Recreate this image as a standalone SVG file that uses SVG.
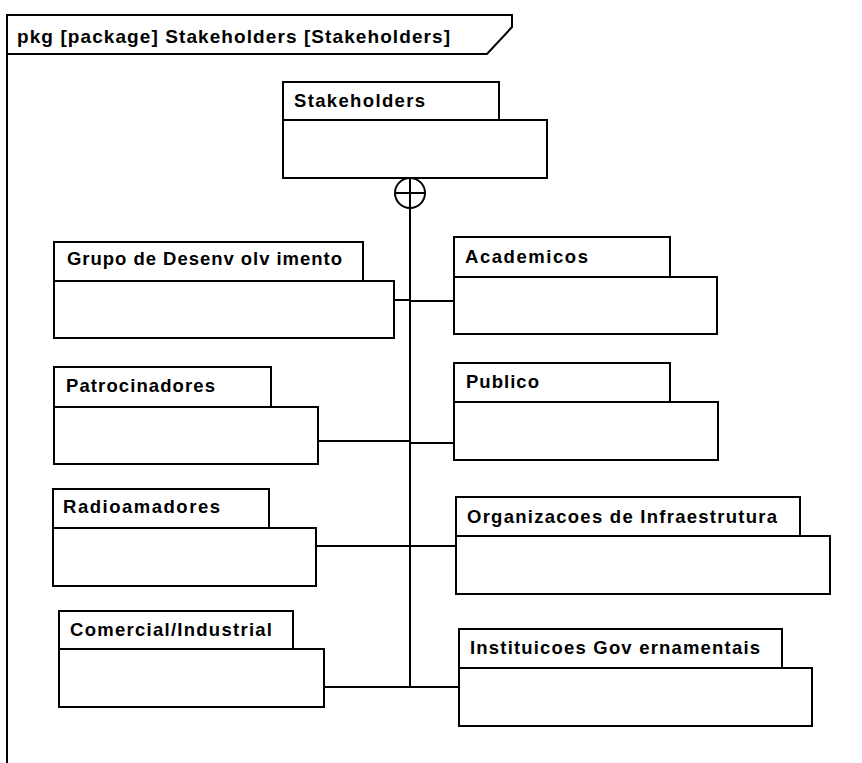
<svg xmlns="http://www.w3.org/2000/svg" width="862" height="763" viewBox="0 0 862 763">
  <style>
    .box { fill: #ffffff; stroke: #000000; stroke-width: 2; }
    .line { fill: none; stroke: #000000; stroke-width: 2; }
    .lbl { font-family: "Liberation Sans", Arial, sans-serif; font-weight: bold; font-size: 18.5px; fill: #000000; }
    .title { font-family: "Liberation Sans", Arial, sans-serif; font-weight: bold; font-size: 19px; fill: #000000; }
  </style>
  <rect x="0" y="0" width="862" height="763" fill="#ffffff"/>

  <!-- diagram frame with header tab -->
  <g id="frame">
    <path class="line" d="M7,763 L7,15 L512,15 L512,27 L487,54 L7,54"/>
    <text class="title" x="17" y="43" textLength="433" lengthAdjust="spacing">pkg [package] Stakeholders [Stakeholders]</text>
  </g>

  <!-- containment connectors -->
  <g id="connectors">
    <circle class="line" cx="410" cy="193" r="15"/>
    <line class="line" x1="395" y1="193" x2="425" y2="193"/>
    <line class="line" x1="410" y1="178" x2="410" y2="687"/>
    <line class="line" x1="394" y1="300" x2="410" y2="300"/>
    <line class="line" x1="410" y1="301" x2="454" y2="301"/>
    <line class="line" x1="318" y1="441" x2="410" y2="441"/>
    <line class="line" x1="410" y1="443" x2="454" y2="443"/>
    <line class="line" x1="316" y1="546" x2="456" y2="546"/>
    <line class="line" x1="324" y1="687" x2="459" y2="687"/>
  </g>

  <g id="stakeholders">
    <rect class="box" x="283" y="82" width="216" height="38"/>
    <rect class="box" x="283" y="120" width="264" height="58"/>
    <text class="lbl" x="294" y="107" textLength="131" lengthAdjust="spacing">Stakeholders</text>
  </g>

  <g id="grupo-desenvolvimento">
    <rect class="box" x="54" y="242" width="309" height="39"/>
    <rect class="box" x="54" y="281" width="340" height="57"/>
    <text class="lbl" x="67" y="265" textLength="275" lengthAdjust="spacing">Grupo de Desenv olv imento</text>
  </g>

  <g id="academicos">
    <rect class="box" x="454" y="237" width="216" height="40"/>
    <rect class="box" x="454" y="277" width="263" height="57"/>
    <text class="lbl" x="465" y="263" textLength="123" lengthAdjust="spacing">Academicos</text>
  </g>

  <g id="patrocinadores">
    <rect class="box" x="54" y="367" width="217" height="40"/>
    <rect class="box" x="54" y="407" width="264" height="57"/>
    <text class="lbl" x="66" y="392" textLength="149" lengthAdjust="spacing">Patrocinadores</text>
  </g>

  <g id="publico">
    <rect class="box" x="454" y="363" width="216" height="39"/>
    <rect class="box" x="454" y="402" width="264" height="58"/>
    <text class="lbl" x="466" y="388" textLength="73" lengthAdjust="spacing">Publico</text>
  </g>

  <g id="radioamadores">
    <rect class="box" x="53" y="489" width="216" height="39"/>
    <rect class="box" x="53" y="528" width="263" height="58"/>
    <text class="lbl" x="63" y="513" textLength="157" lengthAdjust="spacing">Radioamadores</text>
  </g>

  <g id="organizacoes-infraestrutura">
    <rect class="box" x="456" y="497" width="344" height="39"/>
    <rect class="box" x="456" y="536" width="374" height="58"/>
    <text class="lbl" x="467" y="523" textLength="310" lengthAdjust="spacing">Organizacoes de Infraestrutura</text>
  </g>

  <g id="comercial-industrial">
    <rect class="box" x="59" y="611" width="234" height="38"/>
    <rect class="box" x="59" y="649" width="265" height="58"/>
    <text class="lbl" x="70" y="636" textLength="202" lengthAdjust="spacing">Comercial/Industrial</text>
  </g>

  <g id="instituicoes-governamentais">
    <rect class="box" x="459" y="629" width="323" height="39"/>
    <rect class="box" x="459" y="668" width="353" height="58"/>
    <text class="lbl" x="470" y="654" textLength="290" lengthAdjust="spacing">Instituicoes Gov ernamentais</text>
  </g>
</svg>
